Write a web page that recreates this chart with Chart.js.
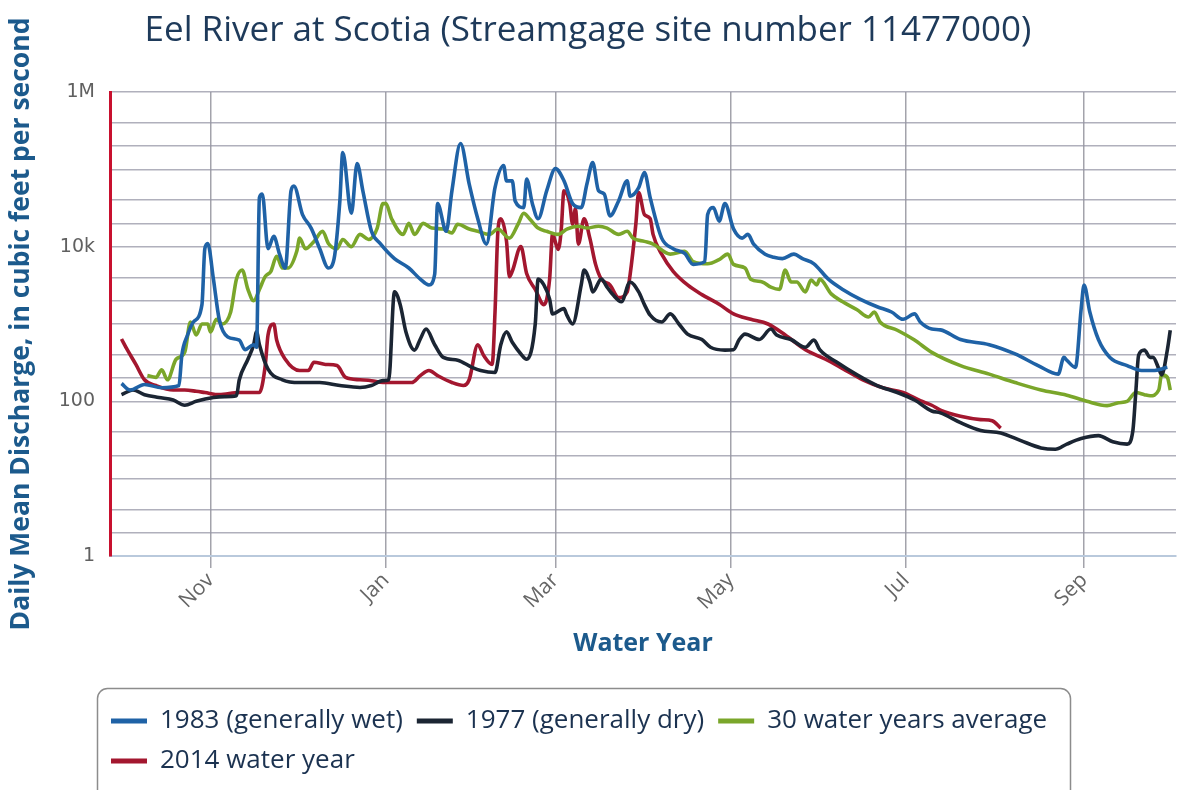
<!DOCTYPE html>
<html>
<head>
<meta charset="utf-8">
<script src="https://cdn.jsdelivr.net/npm/chart.js@4.4.1/dist/chart.umd.min.js"></script>
<style>
  html, body { margin: 0; padding: 0; background: #ffffff; }
  canvas { display: block; }
</style>
</head>
<body>
<canvas id="c" width="1177" height="790"></canvas>
<script>
// ---- Data (day of water year, 0 = Oct 1; discharge in cubic feet per second) ----
const wet1983Days = [0,3,8,14,20,21,23,25,28,29,30,32,34,37,41,43,46,47,48,49,51,53,55,57,59,60,63,66,69,72,74,76,77,80,82,84,87,90,95,100,104,107,109,110,113,115,118,121,124,127,130,133,134,136,137,140,141,143,145,148,151,154,157,160,162,164,166,168,170,173,176,177,180,182,184,188,192,196,199,203,204,206,208,210,213,216,218,220,224,227,230,234,237,241,246,251,257,263,268,272,276,278,282,285,292,302,311,319,326,328,329,332,334,335,337,340,344,350,355,359,364];
const wet1983Vals = [170,140,165,150,160,395,720,1060,1780,9400,11000,3800,1150,680,620,465,540,500,43000,48000,9400,13600,8000,5300,52700,61000,26000,17400,9400,5300,7000,39000,165000,27000,119000,52700,15800,11000,7000,5300,3800,3200,4400,36000,15800,52700,216000,65000,23000,10800,58000,112000,71000,71000,39000,32000,75000,36000,23000,53000,102000,71000,36000,32000,65000,122000,53000,48000,25000,39000,71000,45000,58000,91000,43000,12900,9400,8200,5900,6400,26000,32000,21400,36000,17000,12900,14400,10800,8000,7300,7000,8000,7000,6000,3800,2800,2100,1670,1430,1150,1350,1060,860,840,630,540,410,290,225,370,340,275,1580,3200,1430,630,370,290,250,250,275];

const dry1977Days = [0,4,8,13,18,22,26,32,36,40,41,44,46,47,48,51,56,62,69,76,83,87,91,93,95,97,99,102,104,106,109,112,117,122,125,130,132,134,136,139,141,144,145,147,149,150,154,155,157,160,161,163,164,167,169,171,174,177,180,182,184,188,191,194,197,202,205,210,213,215,217,222,226,228,233,238,241,243,249,256,263,270,276,282,285,292,299,306,313,320,325,329,334,340,345,350,352,353,354,356,358,359,361,362,364,365];
const dry1977Vals = [122,140,122,112,104,89,100,112,115,118,190,350,540,790,540,260,190,175,175,160,151,160,185,190,2600,1780,790,460,640,860,540,370,340,275,250,236,540,790,580,410,350,1000,3800,3200,2100,1350,1580,1300,1000,3200,5000,3500,2600,3800,3000,2400,1940,3500,2600,1780,1300,1060,1350,1000,740,630,500,460,465,630,740,630,860,720,630,500,620,465,320,220,160,130,104,75,71,53,42,39,31,25,24,28,33,36,30,28,42,130,395,460,370,370,265,220,465,830];

const avg30Days = [9,12,14,16,19,22,24,26,28,30,31,33,35,38,40,42,44,46,48,50,52,54,56,58,61,62,64,67,70,72,75,77,80,83,86,89,91,92,94,98,100,102,105,108,112,115,117,121,124,128,131,135,138,140,142,145,148,152,155,159,162,166,169,173,176,178,182,185,191,196,199,204,208,211,213,217,219,223,226,229,231,233,235,238,240,242,243,247,251,256,260,262,264,270,276,282,292,302,311,320,329,336,343,347,350,353,356,358,361,362,364,365];
const avg30Vals = [215,204,255,190,350,430,1060,720,1000,1000,790,1150,1000,1430,3800,5000,2800,2000,2800,4100,4800,7500,5300,5300,8700,12900,9400,11700,15800,11000,9400,12400,10000,14400,12400,17400,36000,36000,23000,14400,20000,14400,20000,17400,16900,15000,19500,16900,15800,14400,16900,12900,19500,27000,23000,17400,15800,14400,16900,18400,17400,18400,17400,14400,15800,12900,11700,10800,8000,8700,6400,6000,6800,8000,5900,5300,3800,3500,3000,2800,5000,3500,3500,2600,3700,3200,3800,2450,1940,1530,1230,1430,1060,830,620,430,290,225,175,140,120,100,88,96,100,130,122,118,140,220,204,140];

const wy2014Days = [0,2,5,8,12,18,22,26,29,34,41,46,48,50,51,53,54,57,62,65,67,71,75,78,83,87,91,101,104,107,110,115,119,121,124,126,129,130,131,132,134,135,136,139,141,144,147,149,150,152,153,154,156,157,158,159,161,163,165,167,170,173,176,177,179,180,182,184,185,188,192,197,202,208,213,219,225,231,238,245,251,258,265,272,278,282,285,292,299,303,306];
const wy2014Vals = [640,465,300,190,160,140,140,135,130,122,130,130,130,285,720,1000,620,350,250,250,320,300,290,204,190,185,175,175,215,250,215,175,160,190,540,395,300,1430,15800,23000,11700,4100,4800,10000,4500,2800,1780,3800,14400,9200,15800,52700,36000,19500,31000,10800,23000,12900,5900,3800,3200,2200,2600,4300,19500,50000,26000,23000,14400,8000,4800,3200,2400,1800,1350,1150,1000,720,465,350,265,190,150,130,102,89,77,64,58,56,45];

const seriesNames = ['1983 (generally wet)', '1977 (generally dry)', '30 water years average', '2014 water year'];
const seriesColors = ['#1f62a6', '#1b2533', '#7aa62a', '#a3172f'];

const monthTickDays = [31, 92, 151, 212, 273, 335];
const monthTickLabels = ['Nov', 'Jan', 'Mar', 'May', 'Jul', 'Sep'];

const yGridValues = [1,2,4,10,20,40,100,200,400,1000,2000,4000,10000,20000,40000,100000,200000,400000,1000000];
const yLabelValues = [1, 100, 10000, 1000000];
const yLabelTexts = ['1', '100', '10k', '1M'];

// ---- Build datasets ----
function pts(days, vals) { return days.map((d, i) => ({ x: d, y: vals[i] })); }
const seriesData = [pts(wet1983Days, wet1983Vals), pts(dry1977Days, dry1977Vals), pts(avg30Days, avg30Vals), pts(wy2014Days, wy2014Vals)];

const datasets = seriesData.map((data, i) => ({
  label: seriesNames[i],
  data: data,
  borderColor: seriesColors[i],
  backgroundColor: seriesColors[i],
  borderWidth: 3.6,
  pointRadius: 0,
  cubicInterpolationMode: 'monotone',
  fill: false
}));

const legendFrame = {
  id: 'legendFrame',
  afterLayout(chart) {
    const lg = chart.legend;
    lg.left = 97;
    lg.right = 1177;
  },
  afterDraw(chart) {
    const ctx = chart.ctx;
    const x = 97.5, y = 688.5, w = 973, h = 140, r = 10;
    ctx.save();
    ctx.strokeStyle = '#8c8c8c';
    ctx.lineWidth = 1.5;
    ctx.beginPath();
    ctx.moveTo(x + r, y);
    ctx.lineTo(x + w - r, y);
    ctx.arcTo(x + w, y, x + w, y + r, r);
    ctx.lineTo(x + w, y + h);
    ctx.moveTo(x, y + h);
    ctx.lineTo(x, y + r);
    ctx.arcTo(x, y, x + r, y, r);
    ctx.stroke();
    ctx.restore();
  }
};

new Chart(document.getElementById('c'), {
  type: 'line',
  data: { datasets: datasets },
  plugins: [legendFrame],
  options: {
    responsive: false,
    animation: false,
    devicePixelRatio: 1,
    layout: { padding: { top: 0, left: 0, right: 1, bottom: 6 } },
    plugins: {
      title: {
        display: true,
        text: 'Eel River at Scotia (Streamgage site number 11477000)',
        color: '#1e3a5a',
        font: { family: 'Open Sans', size: 35, weight: 'normal' },
        padding: { top: 10, bottom: 40 }
      },
      legend: {
        position: 'bottom',
        align: 'start',
        labels: {
          boxWidth: 36,
          boxHeight: 5,
          padding: 14,
          color: '#1b3250',
          font: { family: 'Open Sans', size: 26 },
          generateLabels(chart) {
            return Chart.defaults.plugins.legend.labels.generateLabels(chart).map(l => Object.assign(l, { lineWidth: 0 }));
          }
        }
      },
      tooltip: { enabled: false }
    },
    scales: {
      x: {
        type: 'linear',
        min: -4,
        max: 367,
        afterBuildTicks(scale) { scale.ticks = monthTickDays.map(v => ({ value: v })); },
        afterFit(scale) { scale.height = 138; },
        ticks: {
          autoSkip: false,
          minRotation: 45,
          maxRotation: 45,
          padding: 0,
          color: '#666666',
          font: { family: 'Open Sans', size: 21 },
          callback(value) { const i = monthTickDays.indexOf(value); return i >= 0 ? monthTickLabels[i] : ''; }
        },
        grid: { color: '#a3a3ab', lineWidth: 1.5, drawTicks: true, tickLength: 12 },
        border: { color: '#b9c9dc', width: 2 },
        title: {
          display: true,
          text: 'Water Year',
          color: '#1c5a8c',
          font: { family: 'Open Sans', size: 25, weight: 'bold' },
          padding: { top: 0, bottom: 35 }
        }
      },
      y: {
        type: 'logarithmic',
        min: 1,
        max: 1000000,
        afterBuildTicks(scale) { scale.ticks = yGridValues.map(v => ({ value: v })); },
        afterFit(scale) { scale.width = 110; },
        ticks: {
          autoSkip: false,
          padding: 15,
          color: '#606060',
          font: { family: 'DejaVu Sans', size: 19 },
          callback(value) { const i = yLabelValues.indexOf(value); return i >= 0 ? yLabelTexts[i] : ''; }
        },
        grid: { color: 'rgba(150,150,165,0.75)', lineWidth: 1.5, drawTicks: false },
        border: { color: '#c8102e', width: 3 },
        title: {
          display: true,
          text: 'Daily Mean Discharge, in cubic feet per second',
          color: '#1c5a8c',
          font: { family: 'Open Sans', size: 26.5, weight: 'bold' },
          padding: { top: 6, bottom: 0 }
        }
      }
    }
  }
});
</script>
</body>
</html>
